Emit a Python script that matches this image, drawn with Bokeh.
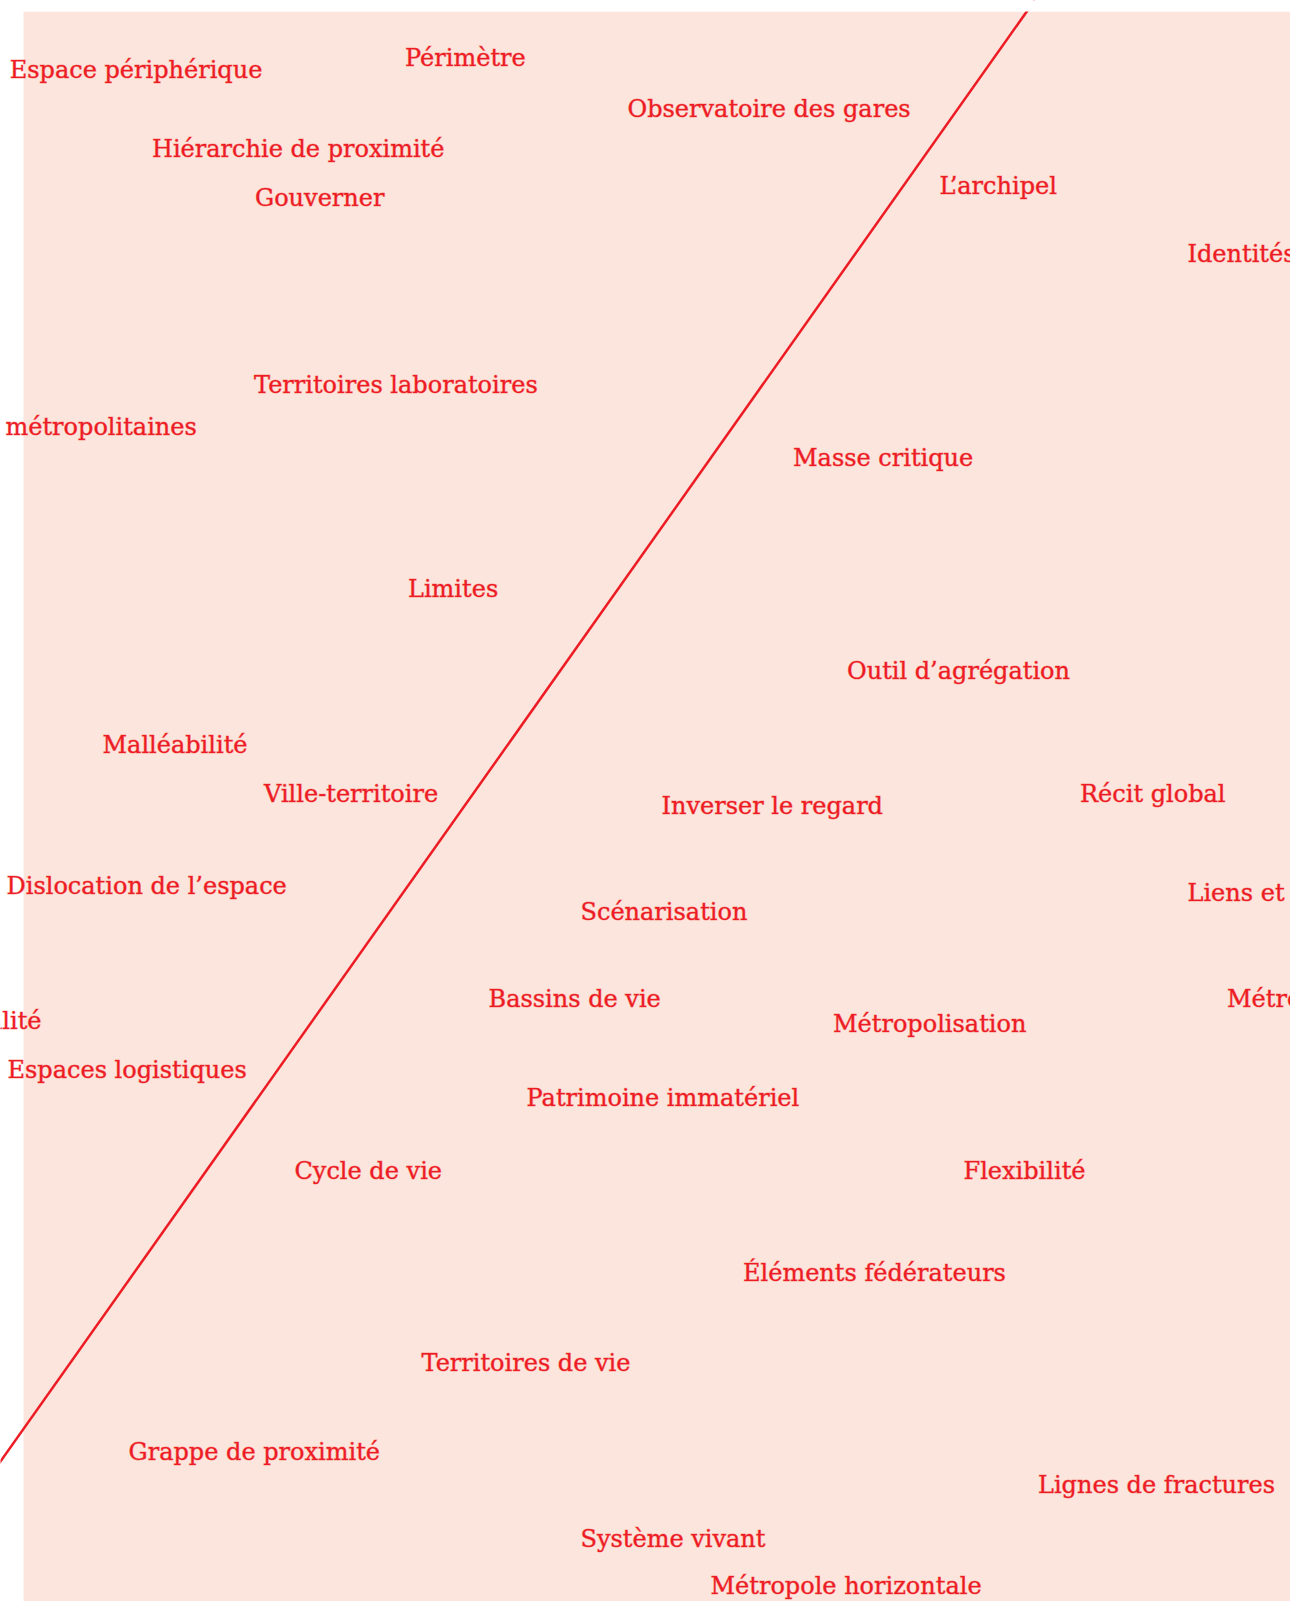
from bokeh.plotting import figure
from bokeh.models import Range1d, BoxAnnotation, Slope, ColumnDataSource
from bokeh.core.properties import value
from bokeh.embed import file_html
from bokeh.resources import INLINE

# Terms positioned on a two-dimensional map (left-anchored labels)
terms = [
    "Espace périphérique", "Périmètre", "Observatoire des gares",
    "Hiérarchie de proximité", "Gouverner", "L’archipel", "Identités",
    "Territoires laboratoires", "métropolitaines", "Masse critique",
    "Limites", "Outil d’agrégation", "Malléabilité", "Ville-territoire",
    "Récit global", "Inverser le regard", "Dislocation de l’espace",
    "Liens et l", "Scénarisation", "Bassins de vie", "Métro",
    "Métropolisation", "Espaces logistiques", "Patrimoine immatériel",
    "Cycle de vie", "Flexibilité", "Éléments fédérateurs",
    "Territoires de vie", "Grappe de proximité", "Lignes de fractures",
    "Système vivant", "Métropole horizontale",
]
term_x = [
    -13.8, 381.5, 604, 128.5, 231.5, 916, 1164, 230.5, -18, 769.5,
    384.5, 823.5, 79, 240.5, 1056.5, 638, -17, 1164, 557, 465, 1203.5,
    809.5, -16, 503, 271, 940, 719.5, 398, 105, 1014.5, 557, 687,
]
term_y = [
    1531.5, 1544, 1493, 1452.5, 1404, 1415.5, 1348, 1216.5, 1174.5, 1144,
    1013, 930.5, 857, 808, 808, 795.5, 716, 709, 689.5, 602.5, 602.5,
    578, 532, 503.5, 431, 431, 329, 239, 149.5, 116.5, 62.5, 16,
]

# Label cut at the left edge (right-anchored)
edge_terms = ["alité"]
edge_x = [18]
edge_y = [580.5]

# Dividing line: y = gradient * x + intercept
line_gradient = 1.41285
line_intercept = 172.5

# Extent of the shaded panel
panel_left = 0
panel_top = 1590

RED = "#ed1c24"
RED_SOFT = "rgba(237, 28, 36, 0.4)"
PINK = "#fce5dc"
FONT = "DejaVu Serif"

p = figure(
    width=1290, height=1601, output_backend="svg", toolbar_location=None,
    x_range=Range1d(-23, 1267), y_range=Range1d(0, 1601),
    x_axis_location=None, y_axis_location=None,
    min_border=0, min_border_left=0, min_border_right=0,
    min_border_top=0, min_border_bottom=0,
)
p.grid.visible = False
p.outline_line_color = None
p.background_fill_color = "white"
p.border_fill_color = "white"

panel = BoxAnnotation(left=panel_left, top=panel_top, fill_color=PINK,
                      fill_alpha=1.0, line_alpha=0, level="underlay")
p.add_layout(panel)

slope = Slope(gradient=line_gradient, y_intercept=line_intercept,
              line_color=RED, line_width=2.5, level="underlay")
p.add_layout(slope)

src = ColumnDataSource(dict(x=term_x, y=term_y, text=terms))
p.text(x="x", y="y", text="text", source=src, text_color=RED,
       text_font=value(FONT), text_font_size="24px",
       text_align="left", text_baseline="alphabetic",
       text_outline_color=RED_SOFT)

src2 = ColumnDataSource(dict(x=edge_x, y=edge_y, text=edge_terms))
p.text(x="x", y="y", text="text", source=src2, text_color=RED,
       text_font=value(FONT), text_font_size="24px",
       text_align="right", text_baseline="alphabetic",
       text_outline_color=RED_SOFT)

# white strip above the panel, covering the line's overshoot
top_strip = BoxAnnotation(bottom=panel_top, top=panel_top + 60,
                          left=-100, right=1400, fill_color="white",
                          fill_alpha=1.0, line_alpha=0, level="overlay")
p.add_layout(top_strip)

open("out.html", "w").write(file_html(p, INLINE))
